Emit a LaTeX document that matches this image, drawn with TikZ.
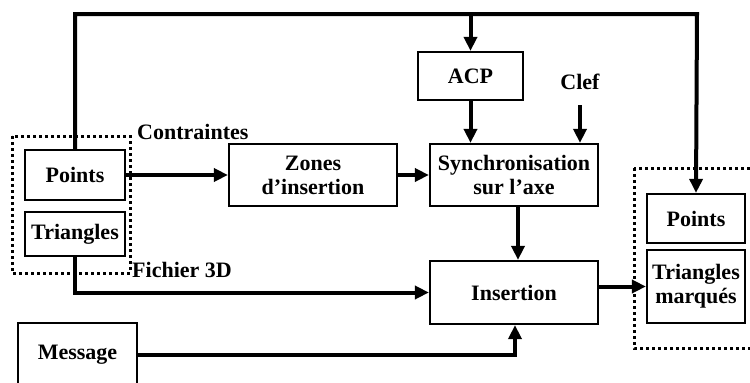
\documentclass[tikz,border=0pt]{standalone}
\usepackage{fontspec}
\setmainfont{Liberation Serif}
\usetikzlibrary{arrows.meta,calc}
\begin{document}
\begin{tikzpicture}[x=1pt,y=-1pt,
  every node/.style={font=\fontsize{22}{24}\selectfont\bfseries},
  blk/.style={draw,line width=2.2pt,inner sep=0pt,align=center},
  conn/.style={line width=4pt},
  arr/.style={conn,-{Triangle[length=14pt,width=13pt]}},
  dotbox/.style={line width=3pt,dash pattern=on 3pt off 3pt}]
\useasboundingbox (0,0) rectangle (750,383);
\fill[white] (0,0) rectangle (750,383);
% blocks
\node[blk,minimum width=100pt,minimum height=50pt] (lpts) at (75,175) {Points};
\node[blk,minimum width=100pt,minimum height=44pt] (ltri) at (75,234) {Triangles};
\node[blk,minimum width=168pt,minimum height=62pt] (zones) at (313,175) {Zones\\d’insertion};
\node[blk,minimum width=168pt,minimum height=62pt] (sync) at (514,175) {Synchronisation\\sur l’axe};
\node[blk,minimum width=105pt,minimum height=48pt] (acp) at (470.5,76) {ACP};
\node[blk,minimum width=168pt,minimum height=63pt] (ins) at (514,292.5) {Insertion};
\node[blk,minimum width=98pt,minimum height=49pt] (rpts) at (696,218.5) {Points};
\node[blk,minimum width=98pt,minimum height=73pt] (tm) at (696,286.5) {Triangles\\marqués};
\node[blk,minimum width=119pt,minimum height=64pt] (msg) at (77.5,355) {Message};
% labels
\node[anchor=west,inner sep=0pt] (contr) at (137,132) {Contraintes};
\node[anchor=west,inner sep=0pt] (fich) at (132,270) {Fichier 3D};
\node[inner sep=0pt] (clef) at (580,82) {Clef};
% dotted groups
\draw[dotbox] (12,136) rectangle (130,273);
\draw[dotbox] (634,168) rectangle (770,348);
% connectors
\coordinate (tl) at (75,14);
\coordinate (tr) at (697,14);
\coordinate (tacp) at (acp.north |- tl);
\draw[arr] (lpts.north) -- (tl) -- (tr) -- (rpts.north);
\draw[arr] (tacp) -- (acp.north);
\draw[arr] (lpts.east) -- (zones.west);
\draw[arr] (zones.east) -- (sync.west);
\draw[arr] (acp.south) -- (acp.south |- sync.north);
\coordinate (clefs) at (580,105);
\draw[arr] (clefs) -- (clefs |- sync.north);
\coordinate (syb) at (518,0);
\draw[arr] (syb |- sync.south) -- (syb |- ins.north);
\draw[arr] (ltri.south) |- (ins.west);
\coordinate (insb) at (515,0);
\draw[arr] (msg.east) -| (insb |- ins.south);
\draw[arr] (ins.east |- tm.west) -- (tm.west);
\end{tikzpicture}
\end{document}
